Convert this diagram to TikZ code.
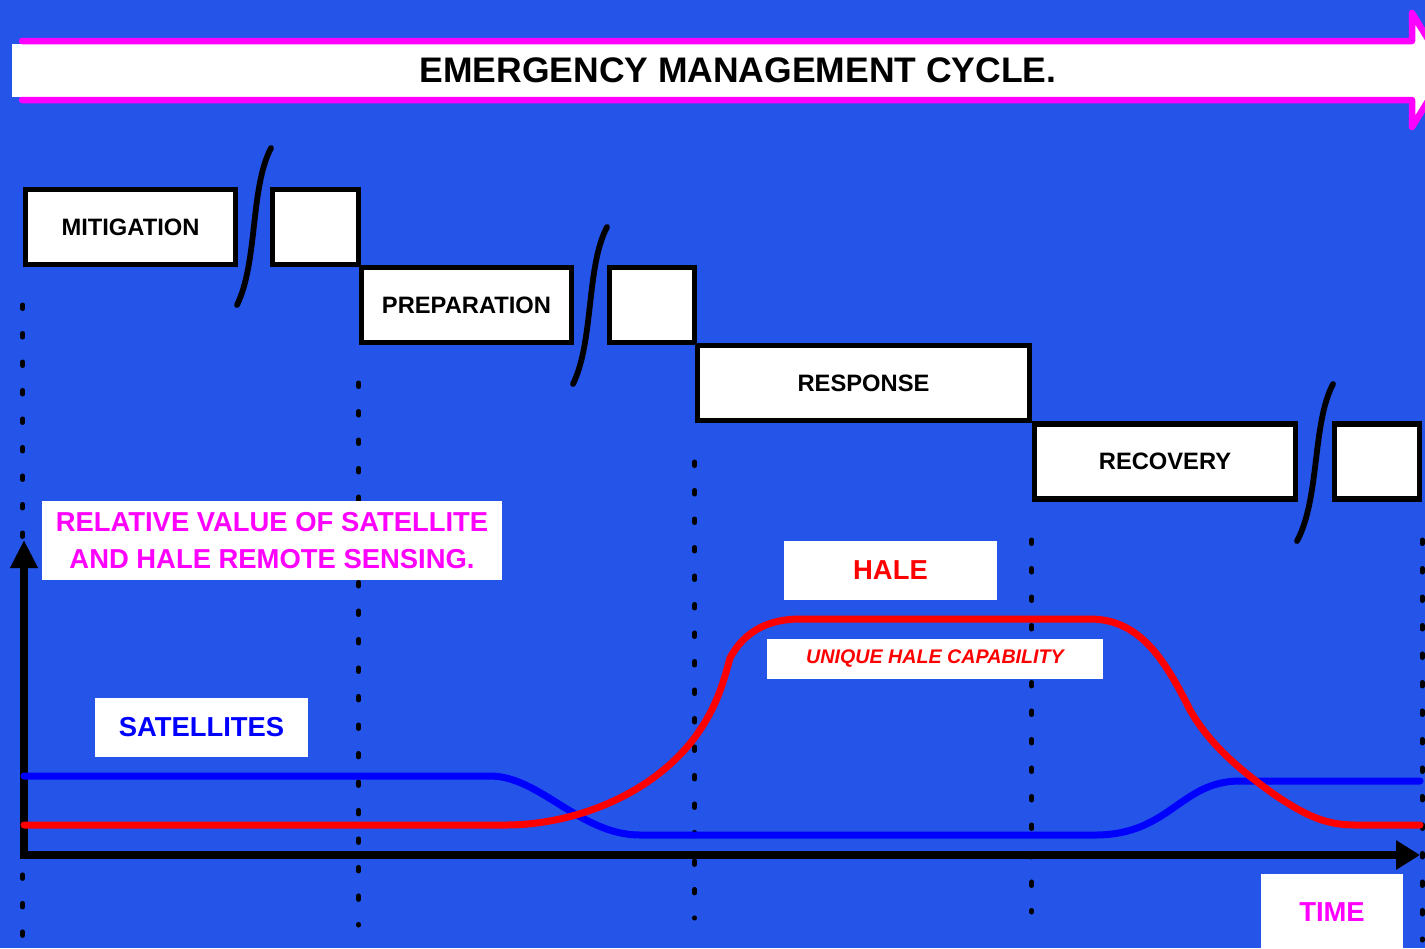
\documentclass[tikz,border=0pt]{standalone}
\usepackage{fontspec}
\setmainfont{Liberation Sans}
\usepackage{xcolor}
\usetikzlibrary{arrows.meta}
\definecolor{bgblue}{RGB}{37,84,232}
\definecolor{mag}{RGB}{255,0,255}

\begin{document}
\begin{tikzpicture}[x=0.02cm,y=-0.02cm,
  stage/.style={draw,line width=3.3pt,fill=white,inner sep=0pt,minimum height=1.5cm,font=\fontsize{13.5}{16}\selectfont\bfseries},
  tag/.style={fill=white,inner sep=0pt,font=\fontsize{15.6}{20.6}\selectfont\bfseries},
  guide/.style={line width=0.1cm,line cap=round,dash pattern=on 0.07cm off 0.5cm},
  brk/.style={line width=3.3pt,line cap=round},
  curve/.style={line width=0.14cm,line cap=round}]
\clip (0,0) rectangle (1425,948);
\fill[bgblue] (0,0) rectangle (1425,948);
% title arrow
\fill[white] (12,44) rectangle (30,97);
\fill[white] (22,41) -- (1412,41) -- (1412,13) -- (1447,70) -- (1412,127) -- (1412,100) -- (22,100) -- cycle;
\draw[mag,line width=0.13cm,line cap=round,line join=round] (22,41) -- (1412,41) -- (1412,13) -- (1447,70) -- (1412,127) -- (1412,100) -- (22,100);
\node[font=\fontsize{20.2}{25}\selectfont\bfseries] (title) at (738,70) {EMERGENCY MANAGEMENT CYCLE.};
% phases
\node[stage,minimum width=4.2cm] (mit) at (130.5,227) {MITIGATION};
\node[stage,minimum width=1.72cm] (box1) at (315.5,227) {};
\node[stage,minimum width=4.2cm] (prep) at (466.5,305) {PREPARATION};
\node[stage,minimum width=1.7cm] (box2) at (652,305) {};
\node[stage,minimum width=6.64cm] (resp) at (863.5,383) {RESPONSE};
\node[stage,minimum width=5.22cm] (rec) at (1165,461.5) {RECOVERY};
\node[stage,minimum width=1.7cm] (box3) at (1377,461.5) {};
% breaks
\draw[brk] (271,148) .. controls (250,188) and (258,262) .. (237,305);
\draw[brk] (607,227) .. controls (586,267) and (594,341) .. (573,384);
\draw[brk] (1333,384) .. controls (1312,424) and (1320,498) .. (1297,541);
% time marks
\foreach \n/\a/\b in {mit.south west/305/940, prep.south west/383/925, resp.south west/462/918, rec.south west/540/912, box3.south east/540/940}
  \draw[guide] (\n |- 0,\a) -- (\n |- 0,\b);
% axes
\coordinate (org) at (24,855);
\coordinate (ytip) at (24,540);
\coordinate (xtip) at (1420,855);
\draw[line width=0.15cm,{Triangle[length=0.56cm,width=0.52cm]}-{Triangle[length=0.48cm,width=0.56cm]}] (ytip) -- (org) -- (xtip);
% curves
\draw[curve,blue] (24,776) -- (490,776) .. controls (540,776) and (580,835) .. (640,835) -- (1095,835) .. controls (1170,835) and (1180,781) .. (1240,781) -- (1420,781);
\draw[curve,red] (24,825) -- (505,825) .. controls (580,825) and (660,790) .. (700,730) .. controls (718,703) and (724,680) .. (730,658) .. controls (745,630) and (770,619) .. (800,619) -- (1090,619) .. controls (1140,619) and (1165,660) .. (1190,710) .. controls (1210,745) and (1240,770) .. (1275,795) .. controls (1305,815) and (1325,825) .. (1355,825) -- (1420,825);
% labels
\node[tag,text=mag,align=center,minimum width=9.2cm,minimum height=1.58cm] (rel) at (272,540.5) {RELATIVE VALUE OF SATELLITE\\AND HALE REMOTE SENSING.};
\node[tag,text=red,minimum width=4.26cm,minimum height=1.18cm] (hale) at (890.5,570.5) {HALE};
\node[tag,text=red,font=\fontsize{11.2}{13}\selectfont\bfseries\itshape,minimum width=6.72cm,minimum height=0.8cm] (uhc) at (935,659) {UNIQUE HALE CAPABILITY};
\node[tag,text=blue,minimum width=4.26cm,minimum height=1.18cm] (sat) at (201.5,727.5) {SATELLITES};
\node[tag,text=mag,minimum width=2.84cm,minimum height=1.52cm] (time) at (1332,912) {TIME};
\end{tikzpicture}
\end{document}
